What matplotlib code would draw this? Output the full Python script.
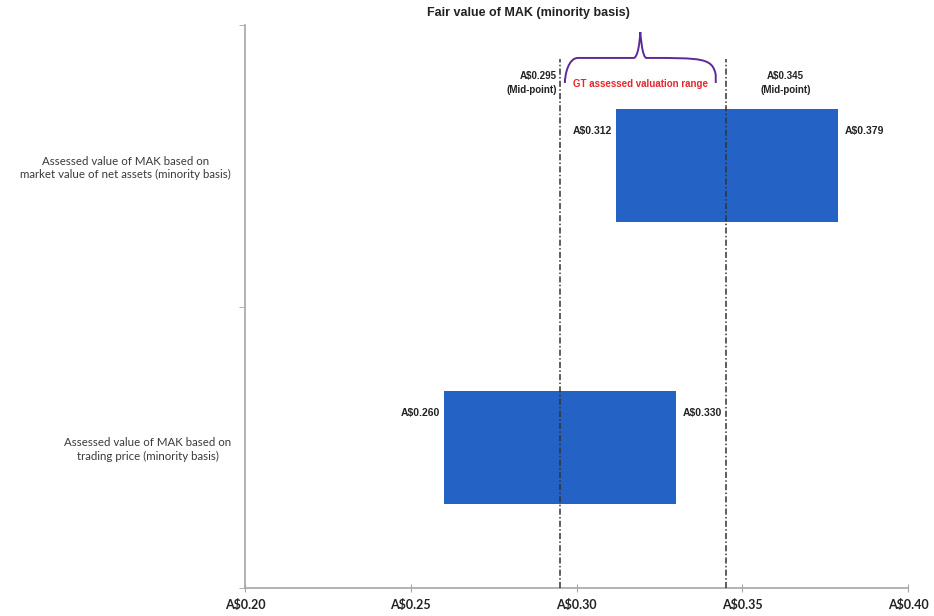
import numpy as np
import matplotlib.pyplot as plt
from matplotlib.path import Path
from matplotlib.patches import PathPatch

categories = ["Assessed value of MAK based on\ntrading price (minority basis)",
              "Assessed value of MAK based on\nmarket value of net assets (minority basis)"]
low_values = [0.260, 0.312]
high_values = [0.330, 0.379]
low_labels = ["A$0.260", "A$0.312"]
high_labels = ["A$0.330", "A$0.379"]
midpoints = [0.295, 0.345]
mid_labels = ["A$0.295\n(Mid-point)", "A$0.345\n(Mid-point)"]
xticks = [0.20, 0.25, 0.30, 0.35, 0.40]
xtick_labels = ["A$0.20", "A$0.25", "A$0.30", "A$0.35", "A$0.40"]

BAR = "#2462c6"
AXC = "#a6a6a6"

fig = plt.figure(figsize=(9.34, 6.16), dpi=100)
ax = fig.add_axes([245 / 934, 28 / 616, 663 / 934, 563 / 616])

ypos = np.arange(len(categories))
widths = [h - l for l, h in zip(low_values, high_values)]
ax.barh(ypos, widths, left=low_values, height=0.4, color=BAR, zorder=2)

# value labels either side of each bar, near the bar's top edge
for y, lo, hi, ll, hl in zip(ypos, low_values, high_values, low_labels, high_labels):
    ty = y + 0.2 - 0.078
    ax.text(lo - 0.0012, ty, ll, ha="right", va="center", fontsize=7.5,
            fontweight="bold", family="Liberation Sans", color="#222222")
    ax.text(hi + 0.002, ty, hl, ha="left", va="center", fontsize=7.5,
            fontweight="bold", family="Liberation Sans", color="#222222")

# mid-point reference lines
for m in midpoints:
    ax.plot([m, m], [-0.5, 1.38], color="#333333", lw=1.1,
            ls=(0, (4, 1.5, 1, 1.5)), zorder=3)
ax.text(midpoints[0] - 0.001, 1.295, mid_labels[0], ha="right", va="center",
        multialignment="right", fontsize=7, fontweight="bold",
        family="Liberation Sans", color="#222222", linespacing=1.5)
ax.text(midpoints[1] + 0.018, 1.295, mid_labels[1], ha="center", va="center",
        multialignment="center", fontsize=7, fontweight="bold",
        family="Liberation Sans", color="#222222", linespacing=1.5)

# curly brace over the valuation range
x0, x1 = midpoints[0] + 0.0015, midpoints[1] - 0.003
xm = (x0 + x1) / 2
yb, yl, yt = 1.294, 1.383, 1.475
verts = [(x0, yb), (x0, yl - 0.06), (x0 + 0.001, yl), (x0 + 0.004, yl),
         (xm - 0.002, yl), (xm - 0.002, yl), (xm - 0.0005, yl - 0.005),
         (xm, yt), (xm, yt), (xm + 0.0005, yl - 0.005),
         (xm + 0.002, yl), (xm + 0.002, yl), (x1 - 0.004, yl),
         (x1 - 0.001, yl), (x1, yl - 0.06), (x1, yb)]
codes = [Path.MOVETO, Path.CURVE4, Path.CURVE4, Path.CURVE4,
         Path.LINETO, Path.CURVE4, Path.CURVE4, Path.CURVE4,
         Path.CURVE4, Path.CURVE4, Path.CURVE4,
         Path.LINETO, Path.CURVE4, Path.CURVE4, Path.CURVE4, Path.LINETO]
ax.add_patch(PathPatch(Path(verts, codes), fill=False, edgecolor="#5b2a9a", lw=1.4,
                       clip_on=False, zorder=4))
ax.text(xm, 1.29, "GT assessed valuation range", ha="center", va="center",
        fontsize=7, fontweight="bold", family="Liberation Sans", color="#e8262a")

ax.set_xlim(0.20, 0.40)
ax.set_ylim(-0.5, 1.5)
ax.set_xticks(xticks)
ax.set_xticklabels(xtick_labels, family="Lato", fontweight="bold", fontsize=9,
                   color="#222222")
ax.set_yticks(ypos)
ax.set_yticklabels(categories, family="Lato", fontsize=8.3, color="#3a3a3a",
                   multialignment="center", linespacing=1.3)
ax.set_yticks([-0.5, 0.5, 1.5], minor=True)
ax.tick_params(axis="y", which="major", length=0, pad=10)
ax.tick_params(axis="y", which="minor", length=4, color=AXC)
ax.tick_params(axis="x", direction="inout", length=6, color=AXC, pad=5)

for s in ["top", "right"]:
    ax.spines[s].set_visible(False)
ax.spines["left"].set_color(AXC)
ax.spines["bottom"].set_color(AXC)
ax.spines["left"].set_linewidth(1.2)
ax.spines["bottom"].set_linewidth(1.2)

fig.text(0.566, 0.979, "Fair value of MAK (minority basis)", ha="center", va="center",
         fontsize=9, fontweight="bold", family="Liberation Sans", color="#222222")

fig.savefig("out.png", dpi=100)
